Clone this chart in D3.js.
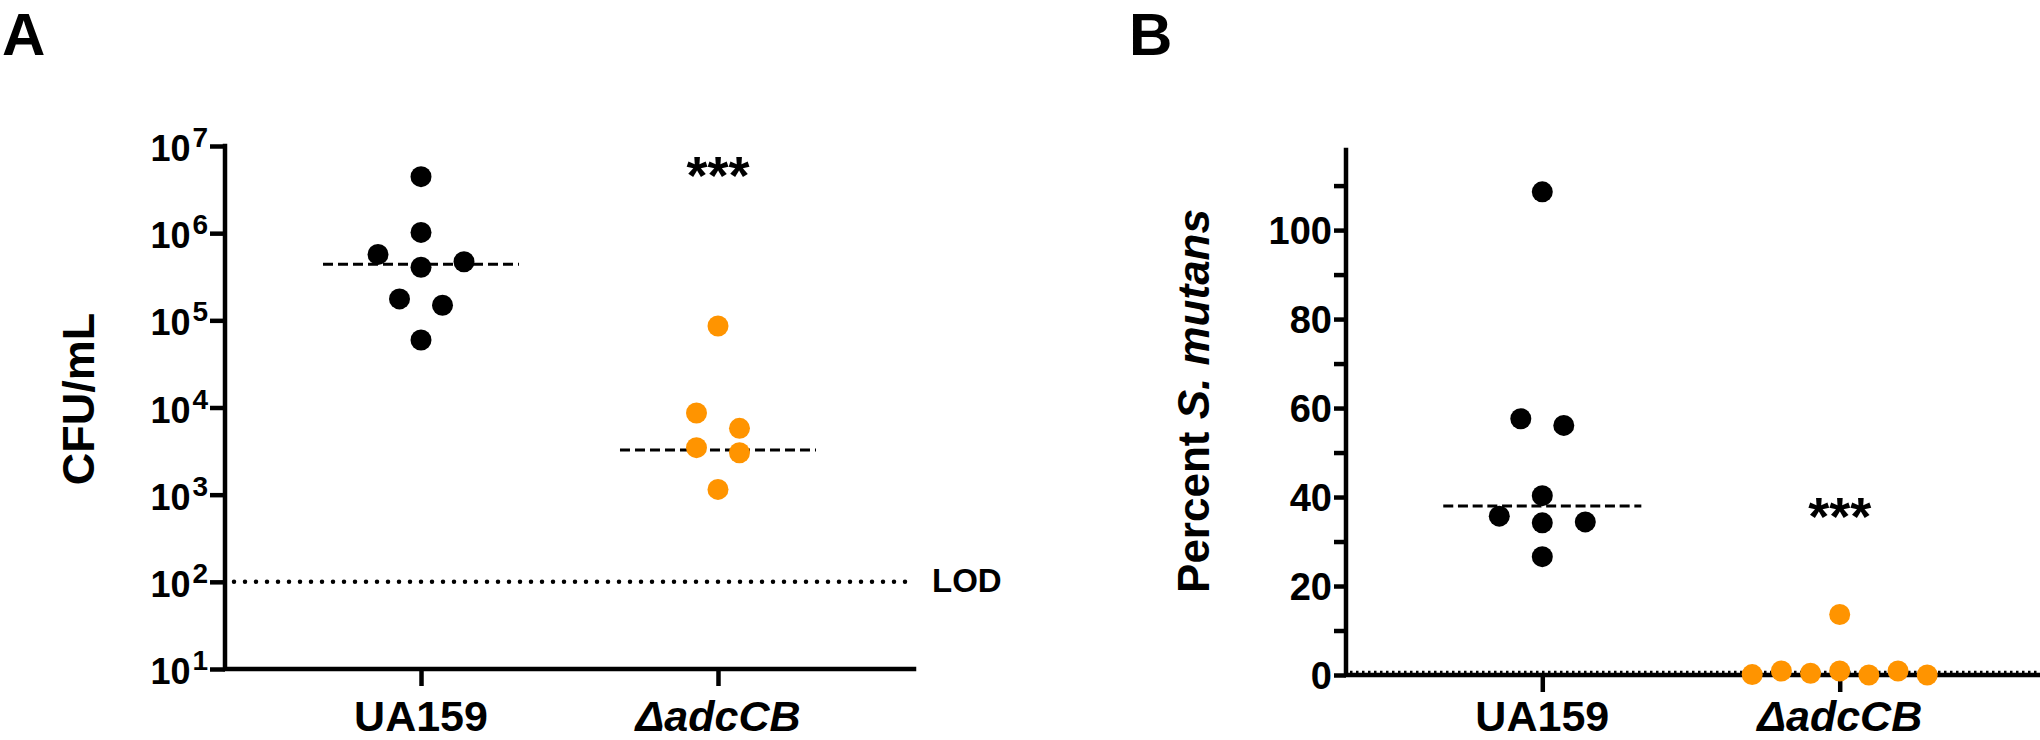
<!DOCTYPE html>
<html><head><meta charset="utf-8">
<script src="https://cdn.jsdelivr.net/npm/d3@7"></script>
<style>
body{margin:0;background:#fff}
text{font-family:"Liberation Sans",Arial,sans-serif;font-weight:bold;fill:#000}
</style>
</head><body>
<svg id="c" width="2040" height="740"></svg>
<script>
// ---------------- data ----------------
const groups = ["UA159", "ΔadcCB"];
// Panel A: CFU/mL
const cfuUA159 = [4.45e6, 1.02e6, 5.7e5, 4.06e5, 4.7e5, 1.76e5, 1.49e5, 5.95e4];
const cfuAdcCB = [8.6e4, 8.65e3, 5.77e3, 3.46e3, 3.03e3, 1.15e3];
const cfuMedians = [4.4e5, 3.25e3];
const cfuLOD = 100;
const cfuTickExp = [1, 2, 3, 4, 5, 6, 7];
// Panel B: Percent S. mutans
const pctUA159 = [108.6, 57.6, 56.1, 40.3, 35.7, 34.2, 34.4, 26.6];
const pctAdcCB = [13.6, 0.1, 0.9, 0.4, 0.9, 0.0, 0.9, 0.0];
const pctMedians = [38.0];
const pctMajorTicks = [0, 20, 40, 60, 80, 100];
const pctMinorTicks = [10, 30, 50, 70, 90, 110];
const signif = ["***", "***"];

// ---------------- setup ----------------
const svg = d3.select("#c");
const ORANGE = "#ff9400";
const R = 10.5;
const AXW = 4.5;

function swarm(values, y, cx) {
  const d = 2 * R;
  const pts = values.map((v, i) => ({v, i, py: y(v)}));
  const sorted = pts.slice().sort((a, b) => b.py - a.py);
  const rows = []; let cur = null;
  sorted.forEach(p => {
    if (cur && cur.start - p.py < d) cur.items.push(p);
    else { cur = {start: p.py, items: [p]}; rows.push(cur); }
  });
  rows.forEach(row => {
    row.items.sort((a, b) => a.i - b.i);
    const n = row.items.length;
    const step = n > 1 ? Math.min(2 * d + 1, 175 / (n - 1)) : 0;
    row.items.forEach((p, k) => p.px = cx + (k - (n - 1) / 2) * step);
  });
  return pts;
}

function dots(g, pts, color) {
  g.selectAll(null).data(pts).enter().append("circle")
    .attr("cx", d => d.px).attr("cy", d => d.py).attr("r", R).attr("fill", color);
}

// ================= Panel A =================
const yA = d3.scaleLog().domain([10, 1e7]).range([669, 146]);
const xA = d3.scalePoint().domain(groups).range([225, 914]).padding(0.66);
const gA = svg.append("g");

const axA = gA.append("g").attr("transform", "translate(225,0)")
  .call(d3.axisLeft(yA).tickValues(cfuTickExp.map(e => Math.pow(10, e))).tickSize(15).tickSizeOuter(0).tickFormat(""));
axA.select(".domain").remove();
axA.selectAll(".tick line").attr("stroke", "#000").attr("stroke-width", AXW);
cfuTickExp.forEach(e => {
  const t = gA.append("text").attr("x", 208).attr("y", yA(Math.pow(10, e)) + 15).attr("text-anchor", "end");
  t.append("tspan").attr("font-size", 36).text("10");
  t.append("tspan").attr("font-size", 28).attr("dx", 2).attr("dy", -14).text(String(e));
});
const axAx = gA.append("g").attr("transform", "translate(0,669)")
  .call(d3.axisBottom(xA).tickSize(17).tickSizeOuter(0).tickFormat(""));
axAx.select(".domain").remove();
axAx.selectAll(".tick line").attr("stroke", "#000").attr("stroke-width", AXW);
gA.append("path").attr("d", `M225,${yA.range()[1]}V669H914`).attr("fill", "none")
  .attr("stroke", "#000").attr("stroke-width", AXW).attr("stroke-linecap", "square");
groups.forEach((gname, i) => {
  gA.append("text").attr("x", xA(gname)).attr("y", 731).attr("text-anchor", "middle")
    .attr("font-size", 43).attr("font-style", i === 1 ? "italic" : "normal").text(gname);
});
gA.append("text").attr("transform", "translate(94,399) rotate(-90)").attr("text-anchor", "middle")
  .attr("font-size", 45).text("CFU/mL");
gA.append("line").attr("x1", 234).attr("x2", 908).attr("y1", yA(cfuLOD)).attr("y2", yA(cfuLOD))
  .attr("stroke", "#000").attr("stroke-width", 4.5).attr("stroke-linecap", "round").attr("stroke-dasharray", "0 11");
gA.append("text").attr("x", 932).attr("y", yA(cfuLOD) + 10).attr("font-size", 33).text("LOD");
cfuMedians.forEach((m, i) => {
  const cx = xA(groups[i]), hw = xA.step() * 0.33;
  gA.append("line").attr("x1", cx - hw).attr("x2", cx + hw).attr("y1", yA(m)).attr("y2", yA(m))
    .attr("stroke", "#000").attr("stroke-width", 3).attr("stroke-dasharray", "10 5");
});
dots(gA, swarm(cfuUA159, yA, xA(groups[0])), "#000");
dots(gA, swarm(cfuAdcCB, yA, xA(groups[1])), ORANGE);
gA.append("text").attr("x", xA(groups[1])).attr("y", 194).attr("text-anchor", "middle")
  .attr("font-size", 54).text(signif[0]);
svg.append("text").attr("x", 2).attr("y", 55).attr("font-size", 60).text("A");

// ================= Panel B =================
const yB = d3.scaleLinear().domain([0, 118]).range([675, 150]);
const xB = d3.scalePoint().domain(groups).range([1346, 2036]).padding(0.66);
const gB = svg.append("g");

const axB = gB.append("g").attr("transform", "translate(1346,0)")
  .call(d3.axisLeft(yB).tickValues(pctMajorTicks).tickSize(12).tickSizeOuter(0).tickPadding(2).tickFormat(d3.format("d")));
axB.select(".domain").remove();
axB.selectAll(".tick line").attr("stroke", "#000").attr("stroke-width", AXW);
axB.selectAll(".tick text").attr("font-size", 38).attr("dy", 13.5).attr("font-family", '"Liberation Sans",Arial,sans-serif').attr("font-weight", "bold").attr("fill", "#000");
const axBm = gB.append("g").attr("transform", "translate(1346,0)")
  .call(d3.axisLeft(yB).tickValues(pctMinorTicks).tickSize(12).tickSizeOuter(0).tickFormat(""));
axBm.select(".domain").remove();
axBm.selectAll(".tick line").attr("stroke", "#000").attr("stroke-width", AXW);

const axBx = gB.append("g").attr("transform", "translate(0,675)")
  .call(d3.axisBottom(xB).tickSize(17).tickSizeOuter(0).tickFormat(""));
axBx.select(".domain").remove();
axBx.selectAll(".tick line").attr("stroke", "#000").attr("stroke-width", AXW);
gB.append("path").attr("d", `M1346,${yB.range()[1]}V675H2040`).attr("fill", "none")
  .attr("stroke", "#000").attr("stroke-width", AXW).attr("stroke-linecap", "square");
gB.append("line").attr("x1", 1350).attr("x2", 2040).attr("y1", 672).attr("y2", 672)
  .attr("stroke", "#000").attr("stroke-width", 2.5).attr("stroke-dasharray", "2.5 3.5");
groups.forEach((gname, i) => {
  gB.append("text").attr("x", xB(gname)).attr("y", 731).attr("text-anchor", "middle")
    .attr("font-size", 43).attr("font-style", i === 1 ? "italic" : "normal").text(gname);
});
const tB = gB.append("text").attr("transform", "translate(1209,401) rotate(-90)").attr("text-anchor", "middle")
  .attr("font-size", 44);
tB.append("tspan").text("Percent ");
tB.append("tspan").attr("font-style", "italic").text("S. mutans");

pctMedians.forEach((m, i) => {
  const cx = xB(groups[i]), hw = xB.step() * 0.333;
  gB.append("line").attr("x1", cx - hw).attr("x2", cx + hw).attr("y1", yB(m)).attr("y2", yB(m))
    .attr("stroke", "#000").attr("stroke-width", 3).attr("stroke-dasharray", "10 4.7");
});
dots(gB, swarm(pctUA159, yB, xB(groups[0])), "#000");
dots(gB, swarm(pctAdcCB, yB, xB(groups[1])), ORANGE);
gB.append("text").attr("x", xB(groups[1])).attr("y", 535).attr("text-anchor", "middle")
  .attr("font-size", 54).text(signif[1]);
svg.append("text").attr("x", 1129).attr("y", 55).attr("font-size", 60).text("B");
</script>
</body></html>
